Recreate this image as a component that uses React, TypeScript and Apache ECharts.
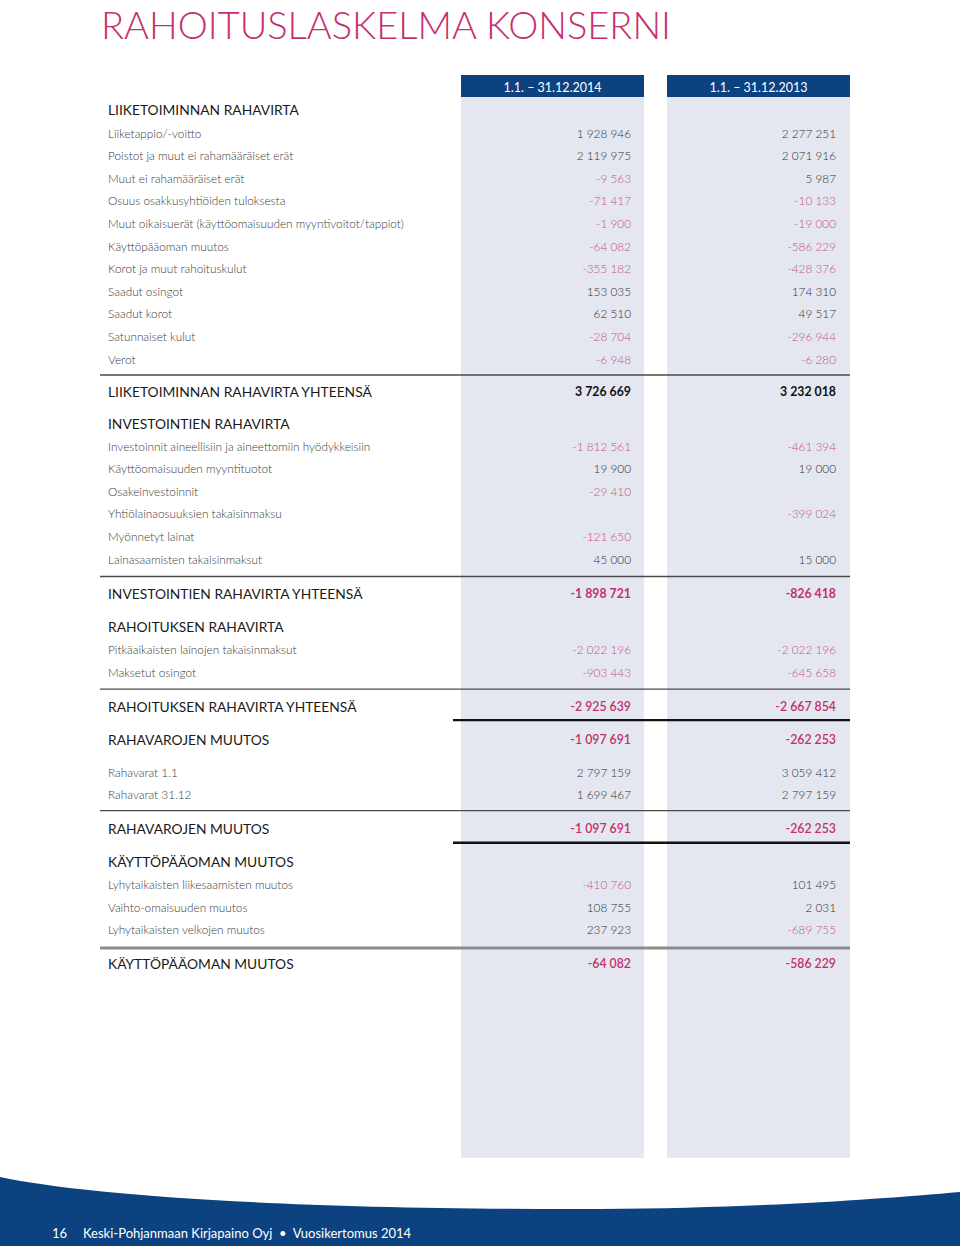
import React, { useEffect, useRef } from "react";
import * as echarts from "echarts";

const columnHeaders = ["1.1. – 31.12.2014", "1.1. – 31.12.2013"];

const opHeader = "LIIKETOIMINNAN RAHAVIRTA";
const opLabels = [
  "Liiketappio/-voitto",
  "Poistot ja muut ei rahamääräiset erät",
  "Muut ei rahamääräiset erät",
  "Osuus osakkusyhtiöiden tuloksesta",
  "Muut oikaisuerät (käyttöomaisuuden myyntivoitot/tappiot)",
  "Käyttöpääoman muutos",
  "Korot ja muut rahoituskulut",
  "Saadut osingot",
  "Saadut korot",
  "Satunnaiset kulut",
  "Verot",
];
const op2014 = [1928946, 2119975, -9563, -71417, -1900, -64082, -355182, 153035, 62510, -28704, -6948];
const op2013 = [2277251, 2071916, 5987, -10133, -19000, -586229, -428376, 174310, 49517, -296944, -6280];
const opTotalLabel = "LIIKETOIMINNAN RAHAVIRTA YHTEENSÄ";
const opTotal = [3726669, 3232018];

const invHeader = "INVESTOINTIEN RAHAVIRTA";
const invLabels = [
  "Investoinnit aineellisiin ja aineettomiin hyödykkeisiin",
  "Käyttöomaisuuden myyntituotot",
  "Osakeinvestoinnit",
  "Yhtiölainaosuuksien takaisinmaksu",
  "Myönnetyt lainat",
  "Lainasaamisten takaisinmaksut",
];
const inv2014 = [-1812561, 19900, -29410, null, -121650, 45000];
const inv2013 = [-461394, 19000, null, -399024, null, 15000];
const invTotalLabel = "INVESTOINTIEN RAHAVIRTA YHTEENSÄ";
const invTotal = [-1898721, -826418];

const finHeader = "RAHOITUKSEN RAHAVIRTA";
const finLabels = ["Pitkäaikaisten lainojen takaisinmaksut", "Maksetut osingot"];
const fin2014 = [-2022196, -903443];
const fin2013 = [-2022196, -645658];
const finTotalLabel = "RAHOITUKSEN RAHAVIRTA YHTEENSÄ";
const finTotal = [-2925639, -2667854];

const cashChangeLabel = "RAHAVAROJEN MUUTOS";
const cashChange = [-1097691, -262253];
const cashLabels = ["Rahavarat 1.1", "Rahavarat 31.12"];
const cash2014 = [2797159, 1699467];
const cash2013 = [3059412, 2797159];

const wcHeader = "KÄYTTÖPÄÄOMAN MUUTOS";
const wcLabels = ["Lyhytaikaisten liikesaamisten muutos", "Vaihto-omaisuuden muutos", "Lyhytaikaisten velkojen muutos"];
const wc2014 = [-410760, 108755, 237923];
const wc2013 = [101495, 2031, -689755];
const wcTotal = [-64082, -586229];

const title = "RAHOITUSLASKELMA KONSERNI";
const footerPage = "16";
const footerText = "Keski-Pohjanmaan Kirjapaino Oyj  •  Vuosikertomus 2014";

const FONT = 'Lato, "Open Sans", sans-serif';
const PINK = "#c4306f";
const PINK_LIGHT = "#c8508a";
const BLUE = "#0b427f";
const COLBG = "#e4e7f0";

function fmt(n: number | null): string {
  if (n === null || n === undefined) return "";
  const s = Math.abs(n).toString().replace(/\B(?=(\d{3})+(?!\d))/g, " ");
  return (n < 0 ? "-" : "") + s;
}

type Row =
  | { kind: "header"; label: string; y: number }
  | { kind: "item"; label: string; v: (number | null)[]; y: number }
  | { kind: "total"; label: string; v: number[]; y: number; bold?: boolean }
  | { kind: "line"; y: number }
  | { kind: "thick"; y: number }
  | { kind: "grey"; y: number };

function buildRows(): Row[] {
  const rows: Row[] = [];
  let y = 109;
  const header = (label: string) => rows.push({ kind: "header", label, y });
  const items = (labels: string[], a: (number | null)[], b: (number | null)[], first: number) => {
    labels.forEach((l, i) => {
      y += i === 0 ? first : 22.6;
      rows.push({ kind: "item", label: l, v: [a[i], b[i]], y });
    });
  };
  const total = (label: string, v: number[], gap: number, bold = false) => {
    y += gap;
    rows.push({ kind: "total", label, v, y, bold });
  };
  const line = (gap: number, kind: "line" | "thick" | "grey" = "line") => {
    y += gap;
    rows.push({ kind, y });
  };

  header(opHeader);
  items(opLabels, op2014, op2013, 24);
  line(16);
  total(opTotalLabel, opTotal, 16, true);
  y += 32;
  header(invHeader);
  items(invLabels, inv2014, inv2013, 23);
  line(17.5);
  total(invTotalLabel, invTotal, 17, true);
  y += 33;
  header(finHeader);
  items(finLabels, fin2014, fin2013, 23);
  line(17);
  total(finTotalLabel, finTotal, 17);
  line(14, "thick");
  total(cashChangeLabel, cashChange, 19);
  items(cashLabels, cash2014, cash2013, 33);
  line(16);
  total(cashChangeLabel, cashChange, 18);
  line(14, "thick");
  y += 19;
  header(wcHeader);
  items(wcLabels, wc2014, wc2013, 23);
  line(18, "grey");
  total(wcHeader, wcTotal, 16);
  return rows;
}

const COL_RIGHT = [631, 836];
const COL_X = [461, 667];
const COL_W = 183;
const ITEM_SIZE = 11.8;
const HEAD_SIZE = 13.8;

function buildGraphics() {
  const els: any[] = [];
  COL_X.forEach((x, i) => {
    els.push({ type: "rect", shape: { x, y: 97, width: COL_W, height: 1061 }, style: { fill: COLBG }, silent: true });
    els.push({ type: "rect", shape: { x, y: 75, width: COL_W, height: 22 }, style: { fill: BLUE }, silent: true });
    els.push({
      type: "text",
      x: x + COL_W / 2,
      y: 87,
      style: { text: columnHeaders[i], fill: "#ffffff", fontSize: 12.5, fontFamily: FONT, fontWeight: 400, align: "center", verticalAlign: "middle" },
    });
  });
  els.push({
    type: "text",
    x: 101,
    y: 24,
    style: { text: title, fill: PINK, fontSize: 38, fontFamily: FONT, fontWeight: 300, align: "left", verticalAlign: "middle" },
  });

  for (const r of buildRows()) {
    if (r.kind === "line") {
      els.push({ type: "line", shape: { x1: 100, y1: r.y, x2: 850, y2: r.y }, style: { stroke: "#4a4a4a", lineWidth: 1.3 } });
    } else if (r.kind === "thick") {
      els.push({ type: "line", shape: { x1: 453, y1: r.y, x2: 850, y2: r.y }, style: { stroke: "#111111", lineWidth: 2.4 } });
    } else if (r.kind === "grey") {
      els.push({ type: "line", shape: { x1: 100, y1: r.y, x2: 850, y2: r.y }, style: { stroke: "#8c8c8c", lineWidth: 3 } });
    } else if (r.kind === "header") {
      els.push({
        type: "text",
        x: 108,
        y: r.y,
        style: { text: r.label, fill: "#1a1a1a", fontSize: HEAD_SIZE, fontFamily: FONT, fontWeight: 400, align: "left", verticalAlign: "middle" },
      });
    } else if (r.kind === "item") {
      els.push({
        type: "text",
        x: 108,
        y: r.y,
        style: { text: r.label, fill: "#3a3a3a", fontSize: ITEM_SIZE, fontFamily: FONT, fontWeight: 300, align: "left", verticalAlign: "middle" },
      });
      r.v.forEach((v, i) => {
        if (v === null) return;
        els.push({
          type: "text",
          x: COL_RIGHT[i],
          y: r.y,
          style: { text: fmt(v), fill: v < 0 ? PINK_LIGHT : "#333333", fontSize: ITEM_SIZE, fontFamily: FONT, fontWeight: 300, align: "right", verticalAlign: "middle" },
        });
      });
    } else if (r.kind === "total") {
      els.push({
        type: "text",
        x: 108,
        y: r.y,
        style: { text: r.label, fill: "#1a1a1a", fontSize: HEAD_SIZE, fontFamily: FONT, fontWeight: 400, align: "left", verticalAlign: "middle" },
      });
      r.v.forEach((v, i) => {
        els.push({
          type: "text",
          x: COL_RIGHT[i],
          y: r.y,
          style: { text: fmt(v), fill: v < 0 ? PINK : "#111111", fontSize: 12.3, fontFamily: FONT, fontWeight: r.bold ? 700 : 600, align: "right", verticalAlign: "middle" },
        });
      });
    }
  }

  els.push({ type: "footerWave", x: 0, y: 0, style: { fill: BLUE }, silent: true });
  els.push({
    type: "text",
    x: 52,
    y: 1233,
    style: { text: footerPage, fill: "#ffffff", fontSize: 13, fontFamily: FONT, fontWeight: 400, align: "left", verticalAlign: "middle" },
  });
  els.push({
    type: "text",
    x: 83,
    y: 1233,
    style: { text: footerText, fill: "#ffffff", fontSize: 13, fontFamily: FONT, fontWeight: 400, align: "left", verticalAlign: "middle" },
  });
  return els;
}

let registered = false;
function registerShapes() {
  if (registered) return;
  registered = true;
  echarts.graphic.registerShape(
    "footerWave",
    echarts.graphic.extendPath("M0 1177 C 90 1196 300 1210 600 1209 C 760 1208 880 1199 960 1192 L 960 1246 L 0 1246 Z", {})
  );
}

export default function App() {
  const ref = useRef<HTMLDivElement>(null);
  useEffect(() => {
    document.body.style.margin = "0";
    registerShapes();
    const chart = echarts.init(ref.current!, null, { renderer: "svg" });
    chart.setOption({
      animation: false,
      backgroundColor: "#ffffff",
      graphic: { elements: buildGraphics() },
    });
    return () => chart.dispose();
  }, []);
  return <div ref={ref} style={{ width: 960, height: 1246 }} />;
}
